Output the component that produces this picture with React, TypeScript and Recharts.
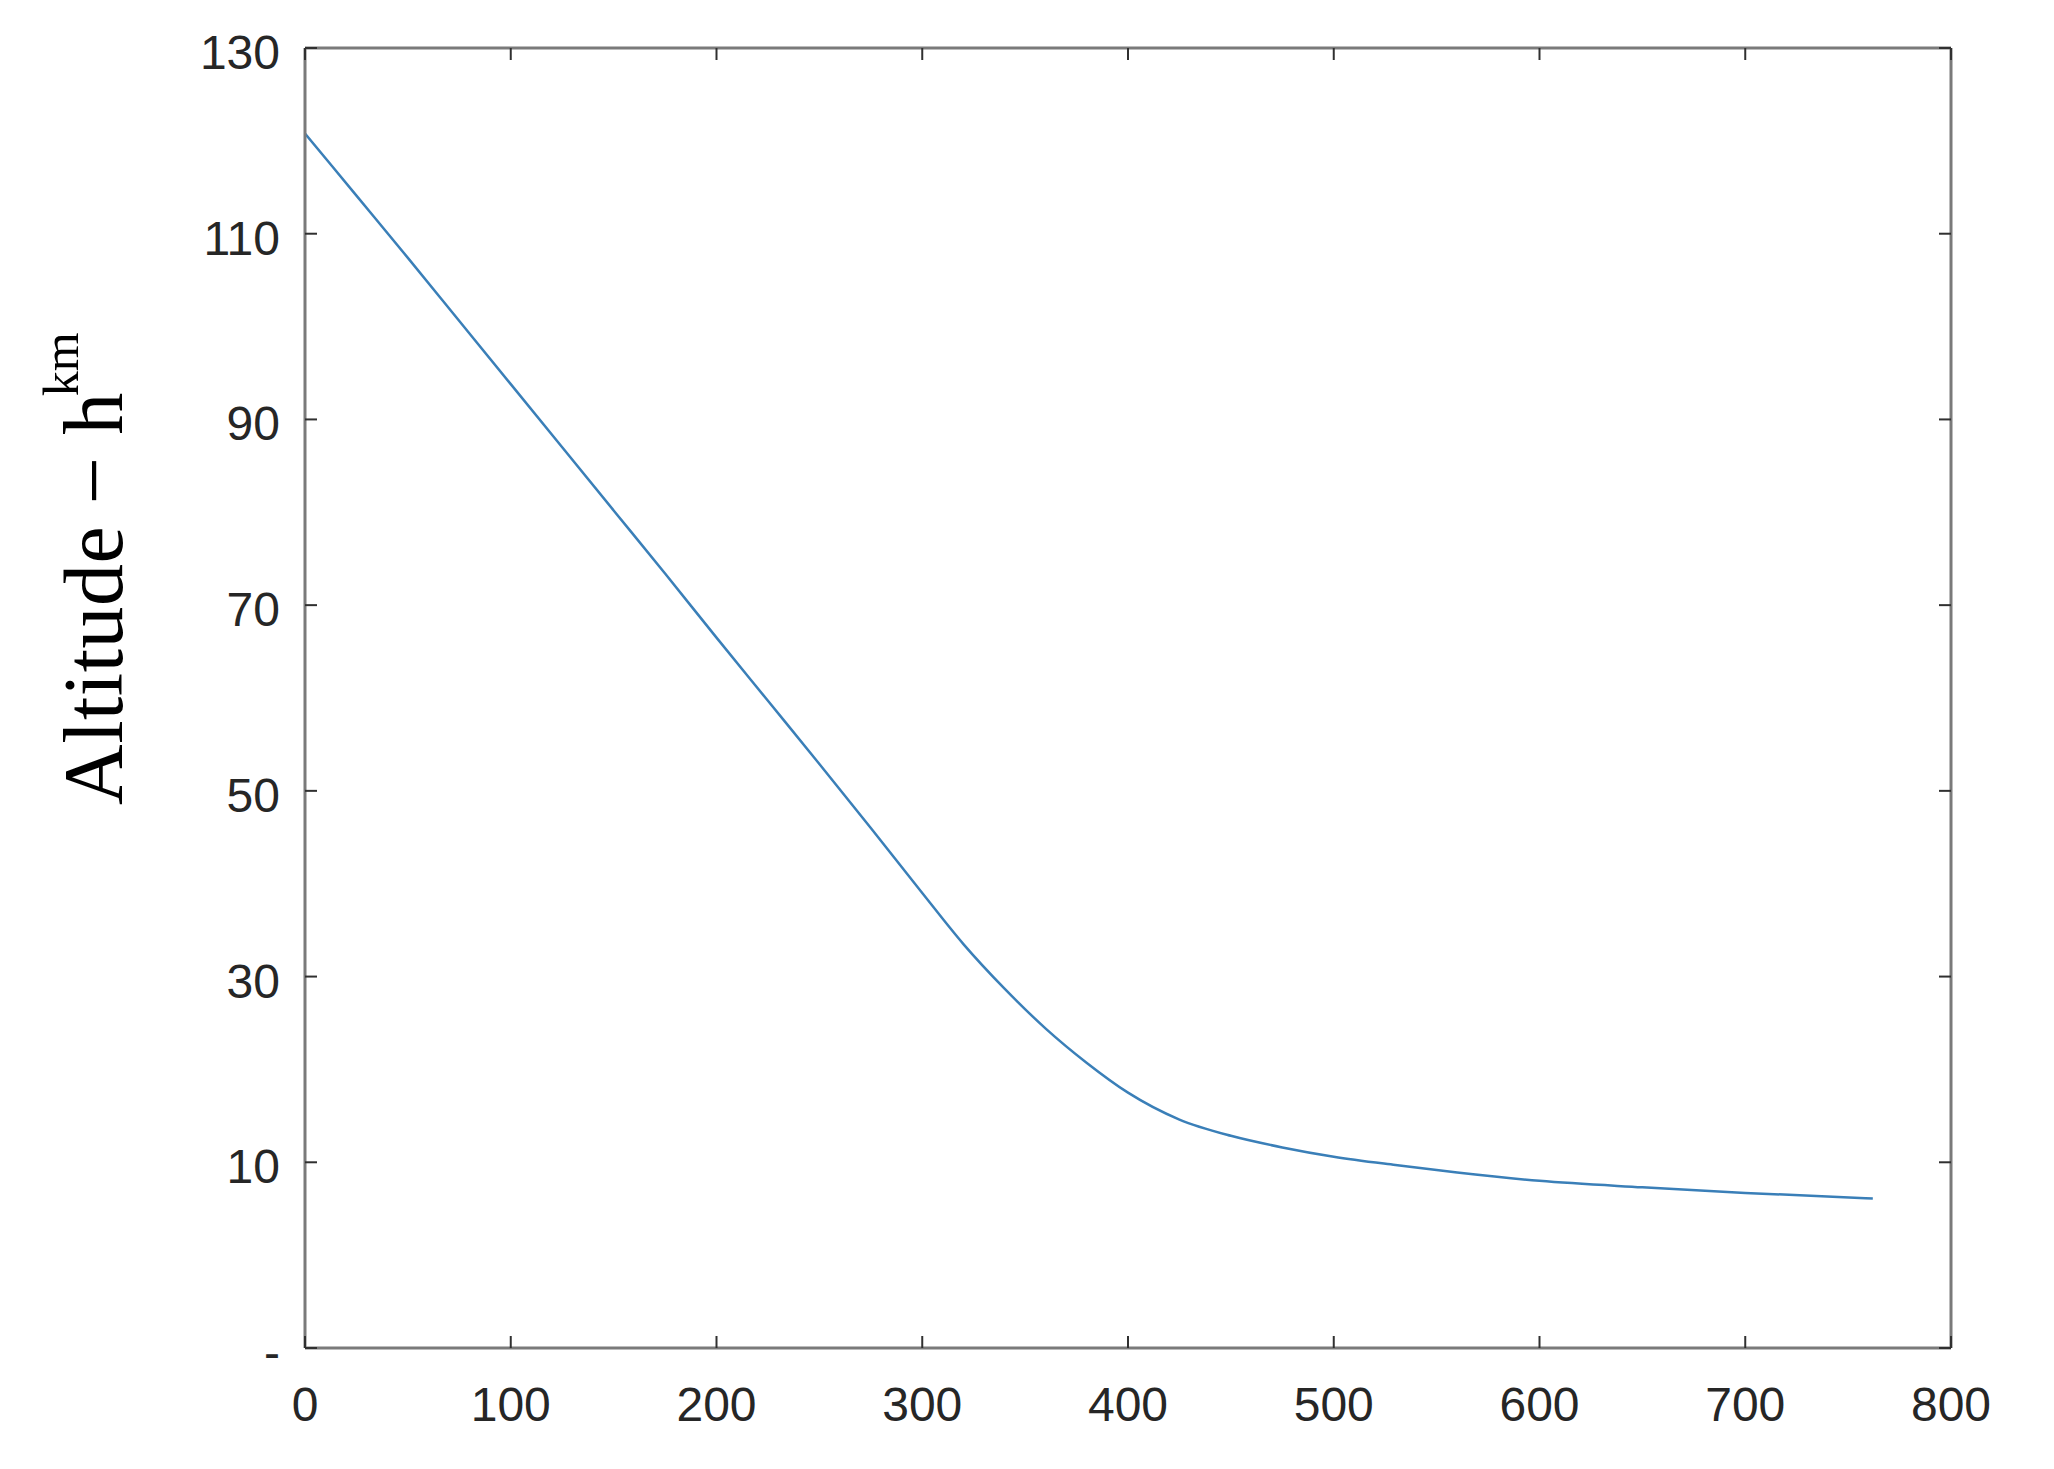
import React from 'react';
import { LineChart, Line, XAxis, YAxis } from 'recharts';

// Time (x) and altitude h (km)
const timeValues = [0, 25, 50, 75, 100, 125, 150, 175, 200, 225, 250, 275, 300, 320, 340, 360, 380, 400, 425, 450, 475, 500, 530, 560, 600, 650, 700, 762];
const altitudeValues = [120.8, 114.1, 107.4, 100.6, 93.8, 87.0, 80.2, 73.4, 66.5, 59.7, 52.9, 46.0, 39.0, 33.5, 28.7, 24.4, 20.7, 17.5, 14.6, 12.85, 11.6, 10.6, 9.7, 8.9, 8.0, 7.3, 6.7, 6.1];

const xTicks = [0, 100, 200, 300, 400, 500, 600, 700, 800];
const yTicks = [-10, 10, 30, 50, 70, 90, 110, 130];
const yTickLabels: Record<number, string> = { [-10]: '-', 10: '10', 30: '30', 50: '50', 70: '70', 90: '90', 110: '110', 130: '130' };

const data = timeValues.map((t, i) => ({ t, h: altitudeValues[i] }));

const AXIS_COLOR = '#7a7a7a';
const TICK_COLOR = '#303030';
const LABEL_COLOR = '#262626';
const FONT = '"Liberation Sans", Arial, sans-serif';
const TICK_LEN = 12;

const BottomTick = (props: any) => {
  const { y, payload } = props;
  const cx = payload.coordinate;
  return (
    <g>
      <line x1={cx} x2={cx} y1={y} y2={y - TICK_LEN} stroke={TICK_COLOR} strokeWidth={2} />
      <text x={cx} y={y + 73} textAnchor="middle" fill={LABEL_COLOR} fontSize={48} fontFamily={FONT}>
        {String(payload.value)}
      </text>
    </g>
  );
};

const TopTick = (props: any) => {
  const { y, payload } = props;
  const cx = payload.coordinate;
  return <line x1={cx} x2={cx} y1={y} y2={y + TICK_LEN} stroke={TICK_COLOR} strokeWidth={2} />;
};

const LeftTick = (props: any) => {
  const { x, payload } = props;
  const cy = payload.coordinate;
  return (
    <g>
      <line x1={x} x2={x + TICK_LEN} y1={cy} y2={cy} stroke={TICK_COLOR} strokeWidth={2} />
      <text x={x - 25} y={cy + 21} textAnchor="end" fill={LABEL_COLOR} fontSize={48} fontFamily={FONT}>
        {yTickLabels[payload.value] ?? String(payload.value)}
      </text>
    </g>
  );
};

const RightTick = (props: any) => {
  const { x, payload } = props;
  const cy = payload.coordinate;
  return <line x1={x} x2={x - TICK_LEN} y1={cy} y2={cy} stroke={TICK_COLOR} strokeWidth={2} />;
};

const YLabel = () => (
  <text
    x={114}
    y={797}
    transform="rotate(-90, 114, 797)"
    fontFamily='"Liberation Serif", "Times New Roman", serif'
    fontSize={84}
    letterSpacing={0.5}
    fill="#000"
    textAnchor="start"
  >
    {'Altitude \u2212 h'}
    <tspan dx={-4} dy={-44} fontSize={50} letterSpacing={0}>km</tspan>
  </text>
);

export default function App() {
  return (
    <div style={{ width: 2038, height: 1453, background: '#fff' }}>
      <LineChart width={2038} height={1453} data={data} margin={{ top: 39, right: 94, bottom: 0, left: 0 }}>
        <XAxis
          xAxisId="b"
          dataKey="t"
          type="number"
          domain={[0, 800]}
          ticks={xTicks}
          interval={0}
          orientation="bottom"
          height={113}
          tickSize={0}
          tickMargin={0}
          axisLine={{ stroke: AXIS_COLOR, strokeWidth: 3 }}
          tickLine={false}
          tick={<BottomTick />}
          allowDataOverflow
        />
        <XAxis
          xAxisId="t"
          dataKey="t"
          type="number"
          domain={[0, 800]}
          ticks={xTicks}
          interval={0}
          orientation="top"
          height={1}
          tickSize={0}
          tickMargin={0}
          axisLine={{ stroke: AXIS_COLOR, strokeWidth: 3 }}
          tickLine={false}
          tick={<TopTick />}
          allowDataOverflow
        />
        <YAxis
          yAxisId="l"
          type="number"
          domain={[-10, 130]}
          ticks={yTicks}
          interval={0}
          width={297}
          tickSize={0}
          tickMargin={0}
          axisLine={{ stroke: AXIS_COLOR, strokeWidth: 3 }}
          tickLine={false}
          tick={<LeftTick />}
          label={<YLabel />}
          allowDataOverflow
        />
        <YAxis
          yAxisId="r"
          orientation="right"
          type="number"
          domain={[-10, 130]}
          ticks={yTicks}
          interval={0}
          width={1}
          tickSize={0}
          tickMargin={0}
          axisLine={{ stroke: AXIS_COLOR, strokeWidth: 3 }}
          tickLine={false}
          tick={<RightTick />}
          allowDataOverflow
        />
        <Line
          xAxisId="b"
          yAxisId="l"
          dataKey="h"
          type="monotone"
          dot={false}
          stroke="#3a7fb8"
          strokeWidth={2.5}
          isAnimationActive={false}
        />
      </LineChart>
    </div>
  );
}
